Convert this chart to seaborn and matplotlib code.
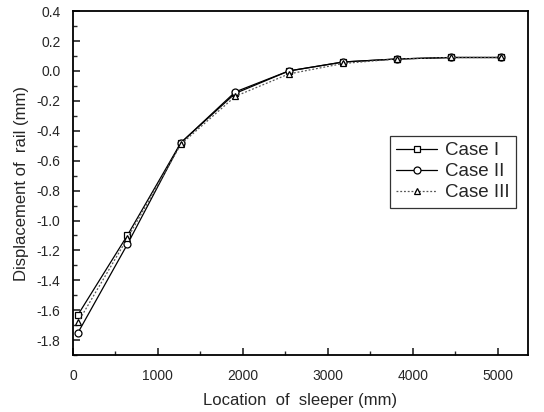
import numpy as np
import pandas as pd
import matplotlib
matplotlib.use("Agg")
import matplotlib.pyplot as plt
import seaborn as sns
from matplotlib.ticker import MultipleLocator

# ---- data ----
location = [60, 640, 1270, 1910, 2540, 3180, 3810, 4450, 5040]
case_1 = [-1.63, -1.10, -0.48, -0.15, 0.00, 0.06, 0.08, 0.09, 0.09]
case_2 = [-1.75, -1.16, -0.48, -0.14, 0.00, 0.06, 0.08, 0.09, 0.09]
case_3 = [-1.68, -1.12, -0.49, -0.17, -0.02, 0.05, 0.08, 0.09, 0.09]
case_names = ["Case I", "Case II", "Case III"]

df = pd.concat([
    pd.DataFrame({"x": location, "y": vals, "case": name})
    for name, vals in zip(case_names, [case_1, case_2, case_3])
])

sns.set_style("ticks")
plt.rcParams["font.family"] = ["Liberation Sans", "DejaVu Sans"]

fig = plt.figure(figsize=(5.44, 4.12), dpi=100)
ax = fig.add_axes([0.134, 0.138, 0.836, 0.835])

sns.lineplot(
    data=df, x="x", y="y", hue="case", style="case", ax=ax,
    palette={"Case I": "black", "Case II": "black", "Case III": "#555555"},
    markers={"Case I": "s", "Case II": "o", "Case III": "^"},
    dashes={"Case I": "", "Case II": "", "Case III": (1.5, 1.5)},
    linewidth=0.9, markersize=5, markerfacecolor="white",
    markeredgewidth=0.9, markeredgecolor="black",
)

ax.set_xlim(0, 5350)
ax.set_ylim(-1.9, 0.4)
ax.xaxis.set_major_locator(MultipleLocator(1000))
ax.xaxis.set_minor_locator(MultipleLocator(500))
ax.yaxis.set_major_locator(MultipleLocator(0.2))
ax.yaxis.set_minor_locator(MultipleLocator(0.1))
ax.yaxis.set_major_formatter(matplotlib.ticker.FormatStrFormatter("%.1f"))
ax.tick_params(axis="y", which="major", pad=9)
ax.tick_params(axis="x", which="major", pad=10)
ax.tick_params(which="major", direction="in", length=5, width=1.2,
               labelsize=10, top=False, right=False)
ax.tick_params(which="minor", direction="in", length=3, width=1.0,
               top=False, right=False)
for s in ax.spines.values():
    s.set_linewidth(1.3)
    s.set_color("black")

ax.set_xlabel("Location  of  sleeper (mm)", fontsize=12, labelpad=7)
ax.set_ylabel("Displacement of  rail (mm)", fontsize=12, labelpad=5)

leg = ax.legend(loc="upper right", bbox_to_anchor=(0.995, 0.665),
                fontsize=13.5, frameon=True, fancybox=False, edgecolor="black",
                handlelength=2.2, handletextpad=0.4, borderpad=0.35,
                labelspacing=0.2)
leg.get_frame().set_linewidth(0.9)

fig.savefig("out.png", dpi=100)
